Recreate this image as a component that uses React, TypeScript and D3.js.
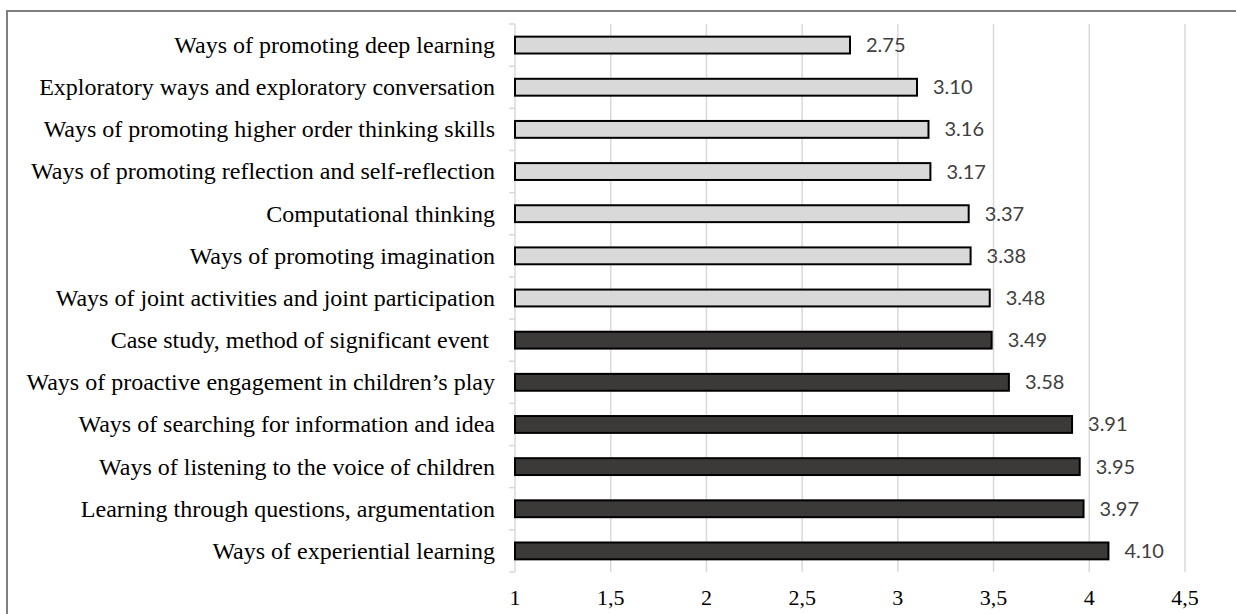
import React from "react";
import * as d3 from "d3";

const categories: string[] = [
  "Ways of promoting deep learning",
  "Exploratory ways and exploratory conversation",
  "Ways of promoting higher order thinking skills",
  "Ways of promoting reflection and self-reflection",
  "Computational thinking",
  "Ways of promoting imagination",
  "Ways of joint activities and joint participation",
  "Case study, method of significant event ",
  "Ways of proactive engagement in children\u2019s play",
  "Ways of searching for information and idea",
  "Ways of listening to the voice of children",
  "Learning through questions, argumentation",
  "Ways of experiential learning",
];

const values: number[] = [2.75, 3.1, 3.16, 3.17, 3.37, 3.38, 3.48, 3.49, 3.58, 3.91, 3.95, 3.97, 4.1];

const groups: string[] = [
  "light", "light", "light", "light", "light", "light", "light",
  "dark", "dark", "dark", "dark", "dark", "dark",
];

const xTicks: number[] = [1, 1.5, 2, 2.5, 3, 3.5, 4, 4.5];
const xTickLabels: string[] = ["1", "1,5", "2", "2,5", "3", "3,5", "4", "4,5"];

const W = 1236;
const H = 614;
const plot = { left: 515, right: 1185, top: 24, bottom: 572 };

export default function App() {
  const x = d3.scaleLinear().domain([1, 4.5]).range([plot.left, plot.right]);
  const y = d3.scaleBand<string>().domain(categories).range([plot.top, plot.bottom]).padding(0);
  const bw = y.bandwidth();
  const barH = bw * 0.4;
  const fill: Record<string, string> = { light: "#d9d9d9", dark: "#3b3a39" };

  const boundaries = categories.map((c) => y(c) as number).concat([plot.bottom]);

  return (
    <svg
      width={W}
      height={H}
      style={{ position: "absolute", left: 0, top: 0, background: "#fff" }}
    >
      <rect x={0} y={0} width={W} height={H} fill="#fff" />
      {/* frame */}
      <rect x={7} y={11} width={W + 50} height={H + 50} fill="none" stroke="#7f7f7f" strokeWidth={2} />

      {/* gridlines */}
      {xTicks.slice(1).map((t) => (
        <line key={"g" + t} x1={x(t)} x2={x(t)} y1={plot.top} y2={plot.bottom} stroke="#d9d9d9" strokeWidth={1.5} />
      ))}

      {/* y axis line and ticks */}
      <line x1={plot.left} x2={plot.left} y1={plot.top} y2={plot.bottom} stroke="#d9d9d9" strokeWidth={1.5} />
      {boundaries.map((b, i) => (
        <line key={"t" + i} x1={plot.left - 6} x2={plot.left} y1={b} y2={b} stroke="#d9d9d9" strokeWidth={1.5} />
      ))}

      {/* bars */}
      {categories.map((c, i) => {
        const cy = (y(c) as number) + bw / 2;
        return (
          <g key={c}>
            <rect
              x={x(1)}
              y={cy - barH / 2}
              width={x(values[i]) - x(1)}
              height={barH}
              fill={fill[groups[i]]}
              stroke="#000"
              strokeWidth={2}
            />
            <text
              x={x(values[i]) + 16}
              y={cy}
              dy="0.35em"
              fontFamily="Lato, 'Open Sans', sans-serif"
              fontSize={20}
              fill="#404040"
            >
              {values[i].toFixed(2)}
            </text>
            <text
              x={plot.left - 20}
              y={cy}
              dy="0.33em"
              textAnchor="end"
              fontFamily="'Liberation Serif', 'Times New Roman', serif"
              fontSize={24}
              fill="#000"
              style={{ whiteSpace: "pre" }}
            >
              {c}
            </text>
          </g>
        );
      })}

      {/* x tick labels */}
      {xTicks.map((t, i) => (
        <text
          key={"xl" + t}
          x={x(t)}
          y={605}
          textAnchor="middle"
          fontFamily="'Liberation Serif', 'Times New Roman', serif"
          fontSize={22}
          fill="#000"
        >
          {xTickLabels[i]}
        </text>
      ))}
    </svg>
  );
}
